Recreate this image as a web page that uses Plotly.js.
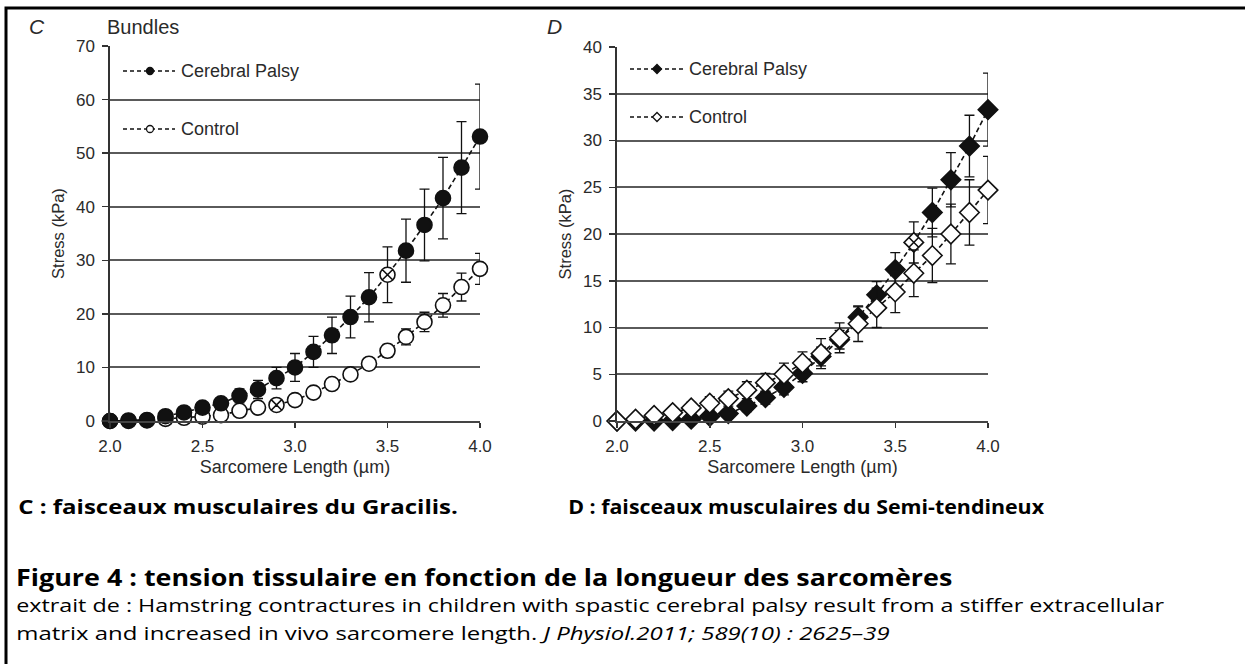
<!DOCTYPE html>
<html>
<head>
<meta charset="utf-8">
<script src="https://cdn.plot.ly/plotly-3.0.1.min.js"></script>
<style>html,body{margin:0;padding:0;background:#fff;} #chart{width:1245px;height:664px;}</style>
</head>
<body>
<div id="chart"></div>
<script>
// ---------- data ----------
const sarcomereLength = [2.0, 2.1, 2.2, 2.3, 2.4, 2.5, 2.6, 2.7, 2.8, 2.9, 3.0, 3.1, 3.2, 3.3, 3.4, 3.5, 3.6, 3.7, 3.8, 3.9, 4.0];

// Panel C : Gracilis bundles
const gracilisCP         = [0, 0.1, 0.2, 0.9, 1.6, 2.5, 3.3, 4.7, 5.9, 8.0, 10.0, 12.9, 16.0, 19.4, 23.1, 27.3, 31.8, 36.6, 41.6, 47.3, 53.1];
const gracilisCPErr      = [0.2, 0.3, 0.4, 0.5, 0.6, 0.8, 1.0, 1.3, 1.7, 2.0, 2.6, 2.9, 3.4, 3.9, 4.6, 5.2, 5.9, 6.7, 7.6, 8.6, 9.8];
const gracilisControl    = [0, 0, 0.1, 0.4, 0.6, 0.8, 1.1, 1.9, 2.5, 3.0, 3.9, 5.3, 6.9, 8.7, 10.7, 13.1, 15.7, 18.5, 21.6, 25.0, 28.4];
const gracilisControlErr = [0.1, 0.1, 0.1, 0.2, 0.2, 0.3, 0.3, 0.4, 0.5, 0.6, 0.6, 0.7, 0.8, 0.9, 1.0, 1.2, 1.5, 1.8, 2.2, 2.6, 2.9];
const gracilisCPHatched      = [3.5];
const gracilisControlHatched = [2.9];

// Panel D : Semitendinosus bundles
const semiCP         = [0, 0, 0, 0.05, 0.2, 0.5, 0.8, 1.6, 2.5, 3.6, 5.1, 6.9, 8.7, 11.1, 13.5, 16.2, 19.1, 22.3, 25.8, 29.4, 33.3];
const semiCPErr      = [0.1, 0.1, 0.1, 0.2, 0.3, 0.4, 0.5, 0.6, 0.7, 0.8, 0.9, 1.0, 1.0, 1.1, 1.4, 1.8, 2.2, 2.6, 2.9, 3.3, 3.9];
const semiControl    = [0, 0.2, 0.6, 0.9, 1.4, 1.9, 2.4, 3.3, 4.1, 5.0, 6.2, 7.2, 8.9, 10.4, 12.1, 13.8, 15.8, 17.7, 20.0, 22.3, 24.7];
const semiControlErr = [0.2, 0.3, 0.4, 0.5, 0.6, 0.7, 0.8, 0.9, 1.0, 1.2, 1.2, 1.6, 1.6, 1.9, 2.1, 2.2, 2.5, 2.9, 3.2, 3.5, 3.6];
const semiCPHatched  = [3.6];

const xTicks = [2.0, 2.5, 3.0, 3.5, 4.0];
const xTickText = ['2.0', '2.5', '3.0', '3.5', '4.0'];
const yTicksC = [0, 10, 20, 30, 40, 50, 60, 70];
const yTicksD = [0, 5, 10, 15, 20, 25, 30, 35, 40];
const seriesNames = ['Cerebral Palsy', 'Control'];

const captionC = 'C : faisceaux musculaires du Gracilis.';
const captionD = 'D : faisceaux musculaires du Semi-tendineux';
const heading = 'Figure 4 : tension tissulaire en fonction de la longueur des sarcomères';
const source1 = 'extrait de : Hamstring contractures in children with spastic cerebral palsy result from a stiffer extracellular';
const source2a = 'matrix and increased in vivo sarcomere length. ';
const source2b = 'J Physiol.2011; 589(10) : 2625–39';

// ---------- helpers ----------
const W = 1245, H = 664;
const px = x => x / W;
const py = y => 1 - y / H;
const INK = '#111';
const TXT = '#2a2a2a';
const chartFont = 'Liberation Sans, Arial, Helvetica, sans-serif';
const capFamily = 'Open Sans';

const ctx = document.createElement('canvas').getContext('2d');
function measure(text, bold, italic) {
  ctx.font = (italic ? 'italic ' : '') + (bold ? 'bold ' : '') + '100px "' + capFamily + '"';
  return ctx.measureText(text).width;
}
// widths of the page captions as measured on the reference (pixels)
const capWidthC = 440;
const capWidthD = 333 * measure(captionD, true) / measure('D : faisceaux musculaires du Se', true);
const headWidth = (922 + 685 * measure(heading, true) / measure('Figure 4 : tension tissulaire en fonction de la longu', true)) / 2;
const body1Width = (1131 + 684 * measure(source1) / measure('extrait de : Hamstring contractures in children with spastic cer')) / 2;
const body2Width = 874;

function trace(y, err, xa, ya, filled, base, hatched, size) {
  const symbols = sarcomereLength.map(v => hatched.includes(v) ? base + '-x' : base);
  const colors = sarcomereLength.map(v => (filled && !hatched.includes(v)) ? INK : '#fff');
  return {
    type: 'scatter', mode: 'lines+markers',
    x: sarcomereLength, y: y, xaxis: xa, yaxis: ya,
    line: {color: INK, width: 1.6, dash: '5px,3px'},
    marker: {symbol: symbols, size: size, color: colors, line: {color: INK, width: 1.6}},
    error_y: {type: 'data', array: err, visible: true, color: INK, thickness: 1.3, width: 5},
    cliponaxis: false, showlegend: false, hoverinfo: 'x+y'
  };
}

const data = [
  trace(gracilisControl, gracilisControlErr, 'x', 'y', false, 'circle', gracilisControlHatched, 15),
  trace(gracilisCP, gracilisCPErr, 'x', 'y', true, 'circle', gracilisCPHatched, 15),
  trace(semiCP, semiCPErr, 'x2', 'y2', true, 'diamond', semiCPHatched, 15),
  trace(semiControl, semiControlErr, 'x2', 'y2', false, 'diamond', [], 15)
];
data[0].name = seriesNames[1]; data[1].name = seriesNames[0];
data[2].name = seriesNames[0]; data[3].name = seriesNames[1];

function xAxis(domain, anchor) {
  return {
    domain: domain, anchor: anchor, range: [2.0, 4.0],
    tickvals: xTicks, ticktext: xTickText,
    ticks: 'outside', ticklen: 5, tickwidth: 1.5, tickcolor: '#333',
    ticklabelstandoff: 4,
    showgrid: false, zeroline: false,
    showline: true, linecolor: '#444', linewidth: 2,
    tickfont: {family: chartFont, size: 17, color: TXT},
    title: {text: 'Sarcomere Length (µm)', standoff: 5, font: {family: chartFont, size: 18, color: TXT}}
  };
}
function yAxis(domain, anchor, range, ticks) {
  return {
    domain: domain, anchor: anchor, range: range,
    tickvals: ticks,
    ticks: 'outside', ticklen: 6, tickwidth: 1.5, tickcolor: '#333',
    ticklabelstandoff: 4,
    showgrid: true, gridcolor: '#5a5a5a', gridwidth: 2,
    zeroline: false,
    showline: true, linecolor: '#333', linewidth: 1.6,
    tickfont: {family: chartFont, size: 17, color: TXT},
    title: {text: 'Stress (kPa)', standoff: 7, font: {family: chartFont, size: 16.5, color: TXT}}
  };
}

// legend glyphs (custom, drawn in page pixels)
function legendLine(x0, x1, y) {
  return {type: 'line', xref: 'paper', yref: 'paper', x0: px(x0), x1: px(x1), y0: py(y), y1: py(y),
          line: {color: INK, width: 1.5, dash: '4px,3px'}};
}
function legendCircle(cx, cy, r, filled) {
  return {type: 'circle', xref: 'paper', yref: 'paper', x0: px(cx - r), x1: px(cx + r), y0: py(cy + r), y1: py(cy - r),
          fillcolor: filled ? INK : '#fff', line: {color: INK, width: 1.3}};
}
function legendDiamond(cx, cy, r, filled) {
  const p = [[cx - r, cy], [cx, cy - r], [cx + r, cy], [cx, cy + r]];
  const path = 'M' + p.map(q => px(q[0]) + ',' + py(q[1])).join(' L') + ' Z';
  return {type: 'path', xref: 'paper', yref: 'paper', path: path,
          fillcolor: filled ? INK : '#fff', line: {color: INK, width: 1.3}};
}
function legendText(x, y, t) {
  return {xref: 'paper', yref: 'paper', x: px(x), y: py(y), xanchor: 'left', yanchor: 'middle',
          text: t, showarrow: false, font: {family: chartFont, size: 18, color: TXT}};
}
function pageText(x, y, t, size, bold) {
  return {xref: 'paper', yref: 'paper', x: px(x), y: py(y), xanchor: 'left', yanchor: 'middle',
          text: bold ? '<b>' + t + '</b>' : t, showarrow: false,
          font: {family: capFamily, size: size, color: '#000'}};
}

const shapes = [
  // page frame
  {type: 'rect', xref: 'paper', yref: 'paper', x0: px(6), x1: 1.02, y0: -0.02, y1: py(8),
   line: {color: '#000', width: 3}, fillcolor: 'rgba(0,0,0,0)'},
  legendLine(123, 175, 71), legendCircle(150, 71, 3.5, true),
  legendLine(123, 175, 129), legendCircle(150, 129, 3.5, false),
  legendLine(630, 683, 69), legendDiamond(657, 69, 4.5, true),
  legendLine(630, 683, 117), legendDiamond(657, 117, 4.5, false)
];

const annotations = [
  legendText(179, 71, seriesNames[0]), legendText(179, 129, seriesNames[1]),
  legendText(687, 69, seriesNames[0]), legendText(687, 117, seriesNames[1]),
  {xref: 'paper', yref: 'paper', x: px(27), y: py(26), xanchor: 'left', yanchor: 'middle', showarrow: false,
   text: '<i>C</i>', font: {family: chartFont, size: 21, color: TXT}},
  {xref: 'paper', yref: 'paper', x: px(105), y: py(27), xanchor: 'left', yanchor: 'middle', showarrow: false,
   text: 'Bundles', font: {family: chartFont, size: 20, color: TXT}},
  {xref: 'paper', yref: 'paper', x: px(545), y: py(26), xanchor: 'left', yanchor: 'middle', showarrow: false,
   text: '<i>D</i>', font: {family: chartFont, size: 21, color: TXT}}
];
// page captions (index in annotations -> target width on the page)
const stretch = {};
function addCaption(x, y, t, size, bold, width) {
  stretch[annotations.length] = width;
  annotations.push(pageText(x, y, t, size, bold));
}
addCaption(16, 506, captionC, 20, true, capWidthC);
addCaption(566, 506, captionD, 20, true, capWidthD);
addCaption(14, 576, heading, 24, true, headWidth);
addCaption(14, 605, source1, 19, false, body1Width);
addCaption(14, 633, source2a + '<i>' + source2b + '</i>', 19, false, body2Width);

const layout = {
  width: W, height: H,
  margin: {l: 0, r: 0, t: 0, b: 0, pad: 0},
  paper_bgcolor: '#fff', plot_bgcolor: '#fff',
  showlegend: false,
  xaxis: xAxis([px(110), px(480)], 'y'),
  yaxis: yAxis([py(421), py(46)], 'x', [0, 70], yTicksC),
  xaxis2: xAxis([px(617), px(988)], 'y2'),
  yaxis2: yAxis([py(421), py(47)], 'x2', [0, 40], yTicksD),
  shapes: shapes,
  annotations: annotations
};

Plotly.newPlot('chart', data, layout, {displayModeBar: false, staticPlot: true}).then(gd => {
  // widen the caption lines horizontally so they span the same width as in the reference
  gd.querySelectorAll('g.annotation').forEach(g => {
    const idx = +g.getAttribute('data-index');
    if (!(idx in stretch)) return;
    const t = g.querySelector('text.annotation-text');
    if (!t) return;
    const bb = t.getBBox();
    const sx = stretch[idx] / bb.width;
    t.setAttribute('transform', 'translate(' + bb.x + ',0) scale(' + sx + ',1) translate(' + (-bb.x) + ',0)');
  });
});
</script>
</body>
</html>
